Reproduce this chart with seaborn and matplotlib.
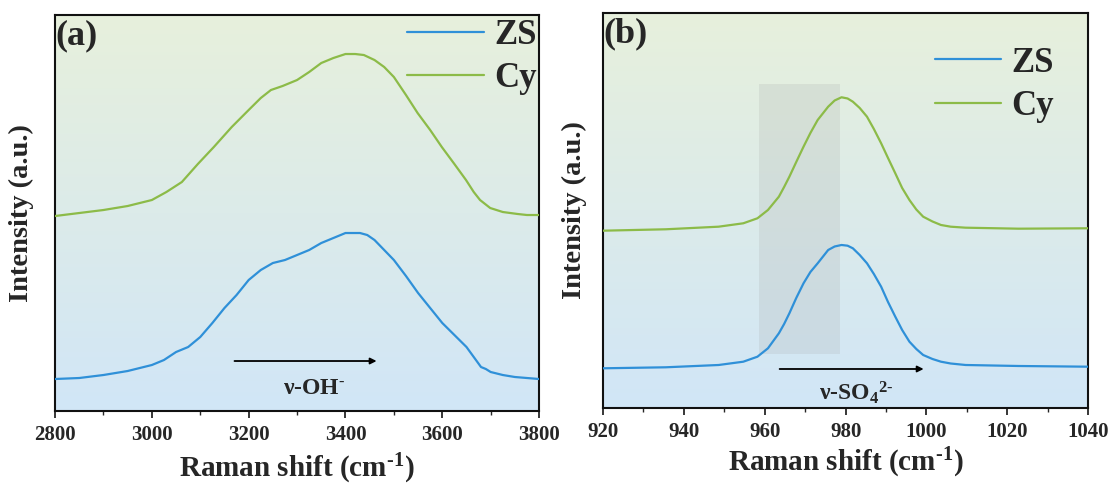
import numpy as np
import pandas as pd
import matplotlib
matplotlib.use("Agg")
import matplotlib.pyplot as plt
import seaborn as sns
from matplotlib.colors import LinearSegmentedColormap

# ---------------- data ----------------
# panel (a): O-H stretching region
a_zs_x = [2800, 2850, 2900, 2950, 3000, 3025, 3050, 3075, 3100, 3125, 3150, 3175, 3200,
          3225, 3250, 3275, 3300, 3325, 3350, 3375, 3400, 3415, 3430, 3445, 3460, 3480,
          3500, 3525, 3550, 3575, 3600, 3625, 3650, 3665, 3680, 3690, 3700, 3725, 3750,
          3775, 3800]
a_zs_y = [32, 33, 36, 40, 46, 51, 59, 64, 74, 88, 103, 116, 131,
          141, 148, 151, 156, 161, 168, 173, 178, 178, 178, 176, 171, 161,
          151, 135, 118, 103, 88, 76, 64, 54, 44, 42, 39, 36, 34,
          33, 32]
a_cy_x = [2800, 2850, 2900, 2950, 3000, 3030, 3062, 3095, 3128, 3165, 3200, 3225, 3246,
          3270, 3300, 3325, 3350, 3375, 3400, 3420, 3438, 3460, 3480, 3500, 3525, 3549,
          3575, 3599, 3625, 3649, 3665, 3678, 3699, 3725, 3756, 3775, 3800]
a_cy_y = [195, 198, 201, 205, 211, 219, 229, 247, 264, 284, 301, 313, 321,
          325, 331, 339, 348, 353, 357, 357, 356, 351, 344, 334, 316, 298,
          281, 264, 247, 231, 219, 211, 203, 199, 197, 196, 196]

# panel (b): SO4 stretching region
b_x = [920, 935.5, 948.6, 954.7, 958.2, 960.8, 963.5, 964.8, 966.1, 967.8, 969.6, 971.3,
       973.1, 975.7, 977.3, 979.0, 980.5, 981.8, 983.5, 985.3, 987, 988.8, 990.5, 992.3,
       994, 995.8, 997.5, 999.2, 1001.5, 1003.6, 1006, 1009.7, 1022.8, 1040]
b_zs_y = [39.7, 40.7, 43, 46.3, 51.3, 59.7, 74.7, 84, 94.7, 110, 124.7, 136,
          144.7, 158, 161.5, 163, 162.3, 159.7, 153, 144.7, 134, 121.3, 106, 91.3,
          78, 66.3, 59, 53, 49, 46.3, 44.5, 43, 42, 41.3]
b_cy_y = [177.3, 178.7, 181.3, 184.7, 189.7, 198, 211.3, 221, 231.3, 246, 261.3, 275,
          288, 301.3, 307.5, 310.7, 309.5, 306.3, 300, 291.3, 279, 264.7, 250, 234.7,
          220, 208, 198.5, 191.3, 186.5, 183, 181.3, 180.3, 179.3, 179.7]

series_names = ["ZS", "Cy"]
colors = {"ZS": "#2f90d8", "Cy": "#8cbb48"}

# ---------------- style ----------------
sns.set_style("ticks")
plt.rcParams["font.family"] = ["Liberation Serif", "DejaVu Serif"]
plt.rcParams["font.weight"] = "bold"
plt.rcParams["mathtext.fontset"] = "custom"
plt.rcParams["mathtext.rm"] = "Liberation Serif:bold"
plt.rcParams["mathtext.it"] = "Liberation Serif:bold"
plt.rcParams["mathtext.bf"] = "Liberation Serif:bold"
plt.rcParams["mathtext.default"] = "rm"

fig = plt.figure(figsize=(11.12, 4.86), dpi=100)
ax_a = fig.add_axes([0.0495, 0.1543, 0.4353, 0.8148])
ax_b = fig.add_axes([0.5423, 0.1605, 0.4362, 0.8128])

grad = LinearSegmentedColormap.from_list("bg", ["#d1e6f7", "#e7f0dc"])


def draw_bg(ax):
    g = np.linspace(0, 1, 256).reshape(-1, 1)
    ax.imshow(g, cmap=grad, origin="lower", extent=[0, 1, 0, 1],
              transform=ax.transAxes, aspect="auto", zorder=0)


def style_axes(ax, xlim, major, minor, ylim):
    ax.set_xlim(*xlim)
    ax.set_ylim(*ylim)
    ax.set_xticks(np.arange(xlim[0], xlim[1] + 1, major))
    ax.set_xticks(np.arange(xlim[0], xlim[1] + 1, minor), minor=True)
    ax.set_yticks([])
    ax.tick_params(axis="x", which="major", direction="out", length=5, width=1.3,
                   labelsize=15, pad=5)
    ax.tick_params(axis="x", which="minor", direction="out", length=3, width=1.0)
    for lab in ax.get_xticklabels():
        lab.set_fontweight("bold")
    for s in ax.spines.values():
        s.set_linewidth(1.5)
        s.set_color("#111111")
    ax.set_xlabel(r"Raman shift (cm$^{\text{-1}}$)", fontsize=21, fontweight="bold",
                  va="center")
    ax.set_ylabel("Intensity (a.u.)", fontsize=20.5, fontweight="bold",
                  va="center")


def make_df(x_zs, y_zs, x_cy, y_cy):
    return pd.concat([
        pd.DataFrame({"x": x_zs, "y": y_zs, "s": "ZS"}),
        pd.DataFrame({"x": x_cy, "y": y_cy, "s": "Cy"}),
    ], ignore_index=True)


def legend(ax, anchor, hl):
    handles, labels = ax.get_legend_handles_labels()
    ax.legend(handles, labels, loc="upper right", bbox_to_anchor=anchor,
              frameon=False, handlelength=hl, handletextpad=0.3,
              labelspacing=0.3, borderpad=0.0, borderaxespad=0.0,
              prop={"family": "Liberation Serif", "weight": "bold", "size": 25})


# ---- panel (a)
draw_bg(ax_a)
df_a = make_df(a_zs_x, a_zs_y, a_cy_x, a_cy_y)
sns.lineplot(data=df_a, x="x", y="y", hue="s", hue_order=series_names,
             palette=colors, ax=ax_a, linewidth=1.6, estimator=None, zorder=3)
style_axes(ax_a, (2800, 3800), 200, 100, (0, 396))
legend(ax_a, (0.995, 0.99), 2.2)
ax_a.annotate("", xy=(3470, 50), xytext=(3165, 50),
              arrowprops=dict(arrowstyle="-|>", color="black", lw=1.3,
                              mutation_scale=9), zorder=4)
ax_a.text(3335, 23, r"ν-OH$^{\text{-}}$", ha="center", va="center", fontsize=17,
          fontweight="bold")
ax_a.text(0.0, 0.99, "(a)", transform=ax_a.transAxes, ha="left", va="top",
          fontsize=26, fontweight="bold")
ax_a.yaxis.set_label_coords(-0.07, 0.5)
ax_a.xaxis.set_label_coords(0.5, -0.145)

# ---- panel (b)
draw_bg(ax_b)
df_b = make_df(b_x, b_zs_y, b_x, b_cy_y)
sns.lineplot(data=df_b, x="x", y="y", hue="s", hue_order=series_names,
             palette=colors, ax=ax_b, linewidth=1.6, estimator=None, zorder=3)
style_axes(ax_b, (920, 1040), 20, 10, (0, 395))
legend(ax_b, (0.93, 0.915), 1.9)
ax_b.axvspan(958.7, 978.5, ymin=54 / 395, ymax=324 / 395, color="#9a9a9a",
             alpha=0.17, lw=0, zorder=2)
ax_b.annotate("", xy=(1000, 39), xytext=(963, 39),
              arrowprops=dict(arrowstyle="-|>", color="black", lw=1.3,
                              mutation_scale=9), zorder=4)
ax_b.text(982.5, 15, r"ν-SO$_4$$^{\text{2-}}$", ha="center", va="center", fontsize=17,
          fontweight="bold")
ax_b.text(0.0, 0.99, "(b)", transform=ax_b.transAxes, ha="left", va="top",
          fontsize=26, fontweight="bold")
ax_b.yaxis.set_label_coords(-0.06, 0.5)
ax_b.xaxis.set_label_coords(0.5, -0.14)

fig.savefig("out.png", dpi=100)
